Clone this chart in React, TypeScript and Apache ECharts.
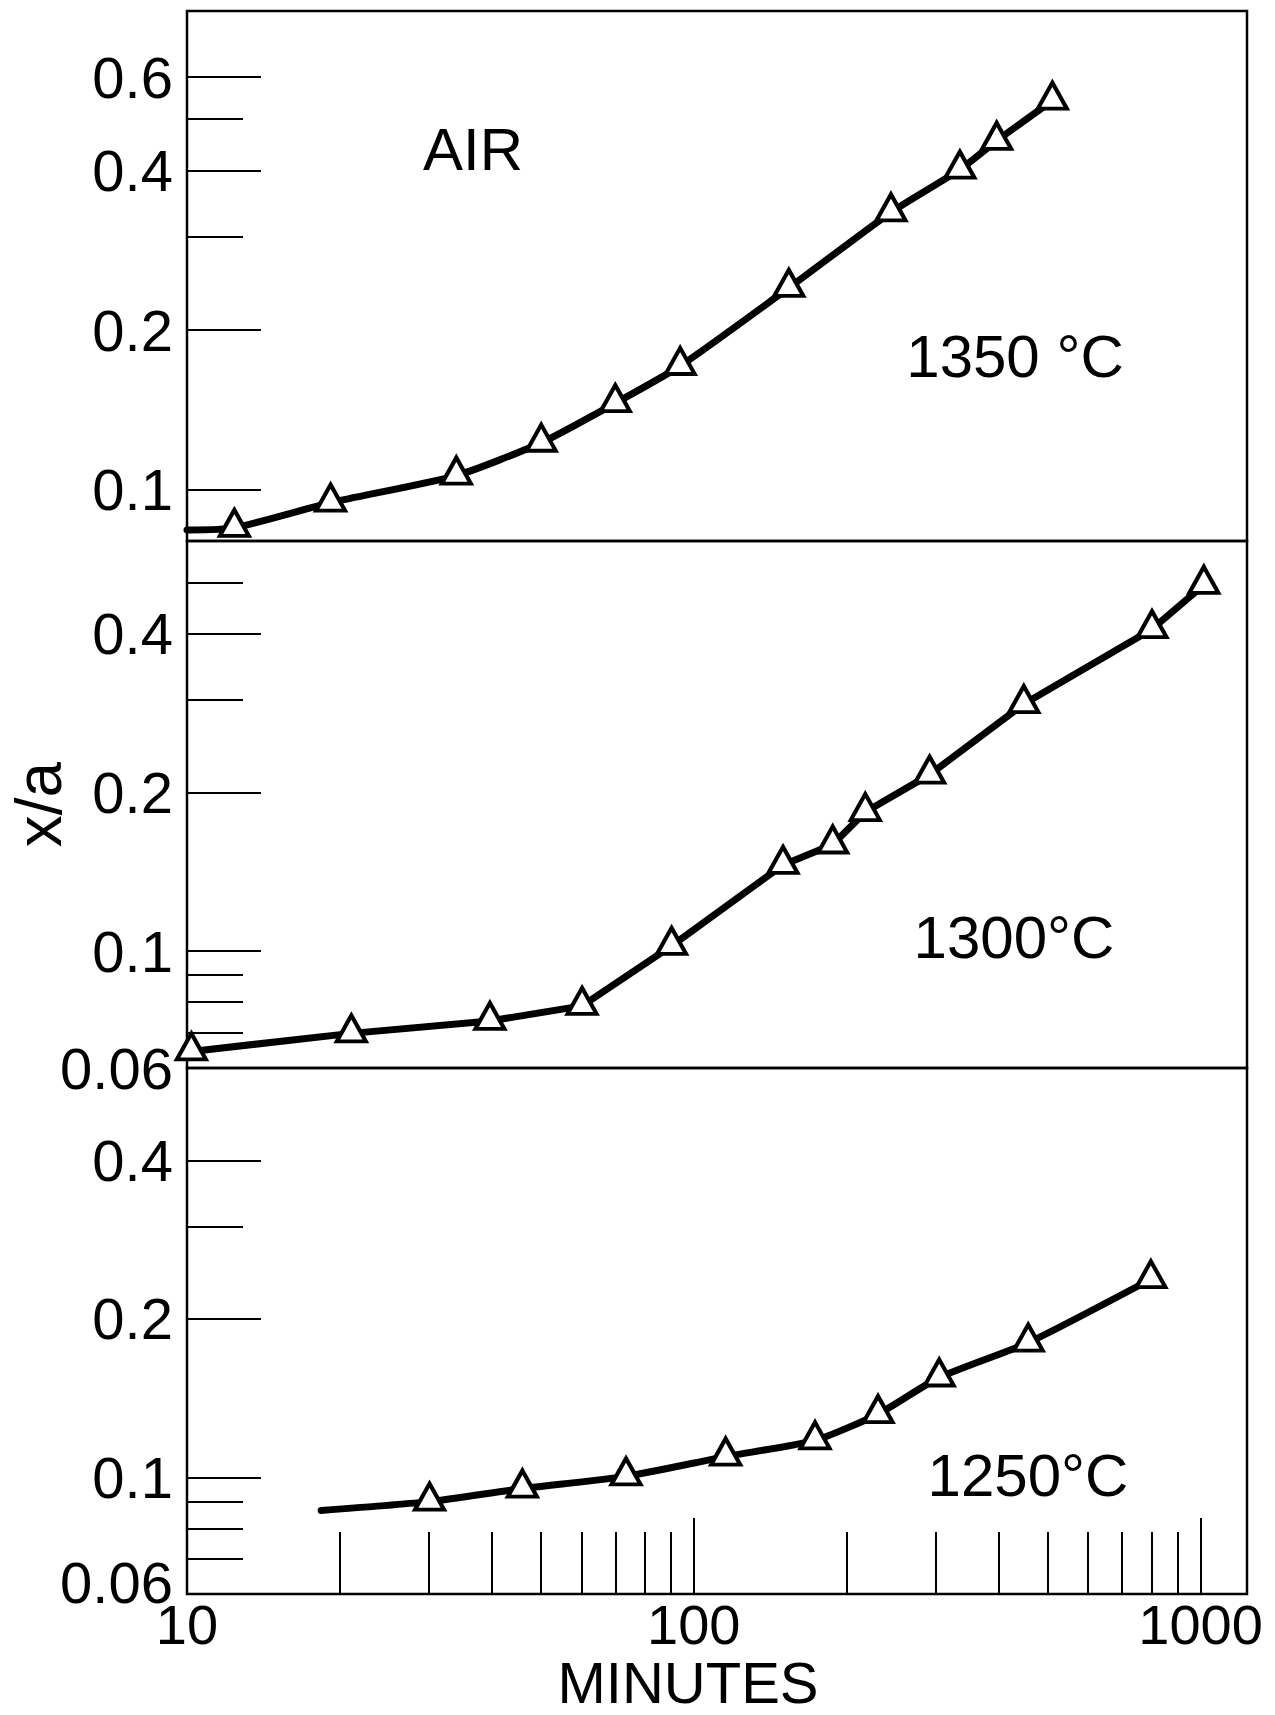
import React, { useEffect, useRef } from "react";
import * as echarts from "echarts";

const FONT = '"Liberation Sans", Arial, Helvetica, sans-serif';

// ---------- data (minutes, x/a) ----------
// 1350 °C, air
const minutes1350 = [12.4, 19.2, 34, 50, 70, 94, 154, 245, 335, 396, 510];
const ratio1350 = [0.0847, 0.0945, 0.1063, 0.1226, 0.1456, 0.1711, 0.2402, 0.3336, 0.4016, 0.4551, 0.542];
const curveStart1350 = [10, 0.0839];

// 1300 °C
const minutes1300 = [10.2, 21.1, 39.6, 60.2, 90.4, 150, 188, 218, 292, 448, 802, 1015];
const ratio1300 = [0.0645, 0.0698, 0.0737, 0.0787, 0.1023, 0.1457, 0.1593, 0.1836, 0.2162, 0.2943, 0.4081, 0.4955];

// 1250 °C
const minutes1250 = [30.1, 45.9, 73.5, 115.6, 173.5, 231, 305, 457, 798];
const ratio1250 = [0.0899, 0.0952, 0.1004, 0.1095, 0.1176, 0.1319, 0.1548, 0.1803, 0.238];
const curveStart1250 = [18.4, 0.0865];

// ---------- axes ----------
const X_RANGE = [10, 1235];
const xLabels = [10, 100, 1000];
const xMajorTicks = [100, 1000];
const xMinorTicks = [20, 30, 40, 50, 60, 70, 80, 90, 200, 300, 400, 500, 600, 700, 800, 900];

const yRange1350 = [0.08, 0.8];
const yRange1300 = [0.06, 0.6];
const yRange1250 = [0.06, 0.6];
const yLabels1350 = [0.1, 0.2, 0.4, 0.6];
const yMinor1350 = [0.3, 0.5];
const yLabels1300 = [0.06, 0.1, 0.2, 0.4];
const yMinor1300 = [0.07, 0.08, 0.09, 0.3, 0.5];
const yLabels1250 = [0.06, 0.1, 0.2, 0.4];
const yMinor1250 = [0.07, 0.08, 0.09, 0.3];

const panelTexts = ["AIR", "1350 °C", "1300°C", "1250°C"];

const zip = (xs: number[], ys: number[]) => xs.map((x, i) => [x, ys[i]]);

const fmtNum = (v: number) => {
  const r = Math.round(v * 1000) / 1000;
  return String(r);
};

function yMajorAxis(gridIndex: number, range: number[], labels: number[], extra: any = {}) {
  return {
    type: "log",
    logBase: 10,
    gridIndex,
    position: "left",
    min: range[0],
    max: range[1],
    axisLine: { show: false, onZero: false },
    splitLine: { show: false },
    minorTick: { show: false },
    minorSplitLine: { show: false },
    axisTick: {
      show: true,
      inside: true,
      length: 74,
      customValues: labels,
      lineStyle: { color: "#000", width: 2.2 },
    },
    axisLabel: {
      show: true,
      customValues: labels,
      margin: 14,
      fontSize: 58,
      fontFamily: FONT,
      color: "#000",
      showMinLabel: true,
      showMaxLabel: true,
      formatter: (v: number) => fmtNum(v),
    },
    ...extra,
  };
}

function yMinorAxis(gridIndex: number, range: number[], ticks: number[]) {
  return {
    type: "log",
    logBase: 10,
    gridIndex,
    position: "left",
    min: range[0],
    max: range[1],
    axisLine: { show: false, onZero: false },
    splitLine: { show: false },
    minorTick: { show: false },
    axisTick: {
      show: true,
      inside: true,
      length: 56,
      customValues: ticks,
      lineStyle: { color: "#000", width: 2.2 },
    },
    axisLabel: { show: false },
  };
}

function hiddenX(gridIndex: number) {
  return {
    type: "log",
    logBase: 10,
    gridIndex,
    position: "bottom",
    min: X_RANGE[0],
    max: X_RANGE[1],
    axisLine: { show: false, onZero: false },
    axisTick: { show: false },
    axisLabel: { show: false },
    splitLine: { show: false },
    minorTick: { show: false },
  };
}

function lineSeries(xi: number, yi: number, data: number[][], smooth: number | boolean) {
  return {
    type: "line",
    xAxisIndex: xi,
    yAxisIndex: yi,
    data,
    symbol: "none",
    showSymbol: false,
    smooth,
    silent: true,
    lineStyle: { color: "#000", width: 7, cap: "round", join: "round" },
    z: 2,
  };
}

function markerSeries(xi: number, yi: number, data: number[][]) {
  return {
    type: "scatter",
    xAxisIndex: xi,
    yAxisIndex: yi,
    data,
    symbol: "triangle",
    symbolSize: [29, 26],
    symbolOffset: [0, -5],
    itemStyle: { color: "#fff", borderColor: "#000", borderWidth: 4, opacity: 1 },
    z: 3,
  };
}

function textEl(text: string, x: number, y: number) {
  return {
    type: "text",
    x,
    y,
    style: {
      text,
      fontSize: 60,
      fontFamily: FONT,
      fill: "#000",
      align: "center",
      verticalAlign: "middle",
    },
  };
}

export default function App() {
  const ref = useRef<HTMLDivElement>(null);

  useEffect(() => {
    document.body.style.margin = "0";
    if (!ref.current) return;
    const chart = echarts.init(ref.current, undefined, { renderer: "svg" });

    const pts1350 = zip(minutes1350, ratio1350);
    const pts1300 = zip(minutes1300, ratio1300);
    const pts1250 = zip(minutes1250, ratio1250);

    const gridBase = {
      show: true,
      borderColor: "#000",
      borderWidth: 2.5,
      backgroundColor: "transparent",
      containLabel: false,
      outerBoundsMode: "none",
    };

    const option: any = {
      animation: false,
      backgroundColor: "#fff",
      grid: [
        { ...gridBase, left: 187, top: 11, width: 1060, height: 530 },
        { ...gridBase, left: 187, top: 541, width: 1060, height: 527 },
        { ...gridBase, left: 187, top: 1068, width: 1060, height: 526 },
      ],
      xAxis: [
        hiddenX(0),
        hiddenX(1),
        {
          type: "log",
          logBase: 10,
          gridIndex: 2,
          position: "bottom",
          min: X_RANGE[0],
          max: X_RANGE[1],
          axisLine: { show: false, onZero: false },
          splitLine: { show: false },
          minorTick: { show: false },
          axisTick: {
            show: true,
            inside: true,
            length: 76,
            customValues: xMajorTicks,
            lineStyle: { color: "#000", width: 2 },
          },
          axisLabel: {
            show: true,
            customValues: xLabels,
            margin: 6,
            fontSize: 56,
            lineHeight: 48,
            fontFamily: FONT,
            color: "#000",
            showMinLabel: true,
            showMaxLabel: true,
            formatter: (v: number) => fmtNum(v),
          },
          name: "MINUTES",
          nameLocation: "middle",
          nameGap: 64,
          nameMoveOverlap: false,
          nameTextStyle: {
            fontSize: 58,
            lineHeight: 48,
            fontFamily: FONT,
            color: "#000",
            padding: [0, 58, 0, 0],
          },
        },
        {
          type: "log",
          logBase: 10,
          gridIndex: 2,
          position: "bottom",
          min: X_RANGE[0],
          max: X_RANGE[1],
          axisLine: { show: false, onZero: false },
          splitLine: { show: false },
          minorTick: { show: false },
          axisTick: {
            show: true,
            inside: true,
            length: 62,
            customValues: xMinorTicks,
            lineStyle: { color: "#000", width: 2 },
          },
          axisLabel: { show: false },
        },
      ],
      yAxis: [
        yMajorAxis(0, yRange1350, yLabels1350),
        yMinorAxis(0, yRange1350, yMinor1350),
        yMajorAxis(1, yRange1300, yLabels1300, {
          name: "x/a",
          nameLocation: "middle",
          nameRotate: 90,
          nameGap: 116,
          nameMoveOverlap: false,
          nameTextStyle: { fontSize: 64, fontFamily: FONT, color: "#000" },
        }),
        yMinorAxis(1, yRange1300, yMinor1300),
        (() => {
          const ax: any = yMajorAxis(2, yRange1250, yLabels1250);
          ax.axisLabel.formatter = (v: number) =>
            Math.abs(v - yRange1250[0]) < 1e-6 ? "{lo|" + fmtNum(v) + "}" : fmtNum(v);
          ax.axisLabel.rich = {
            lo: { fontSize: 58, fontFamily: FONT, color: "#000", padding: [0, 0, 24, 0] },
          };
          return ax;
        })(),
        yMinorAxis(2, yRange1250, yMinor1250),
      ],
      series: [
        lineSeries(0, 0, [curveStart1350, ...pts1350], 0.2),
        markerSeries(0, 0, pts1350),
        lineSeries(1, 2, pts1300, false),
        markerSeries(1, 2, pts1300),
        lineSeries(2, 4, [curveStart1250, ...pts1250], 0.2),
        markerSeries(2, 4, pts1250),
      ],
      graphic: [
        textEl(panelTexts[0], 473, 149),
        textEl(panelTexts[1], 1015, 356),
        textEl(panelTexts[2], 1014, 937),
        textEl(panelTexts[3], 1028, 1475),
      ],
    };

    chart.setOption(option);
    return () => {
      chart.dispose();
    };
  }, []);

  return <div ref={ref} style={{ width: 1275, height: 1715, background: "#fff" }} />;
}
